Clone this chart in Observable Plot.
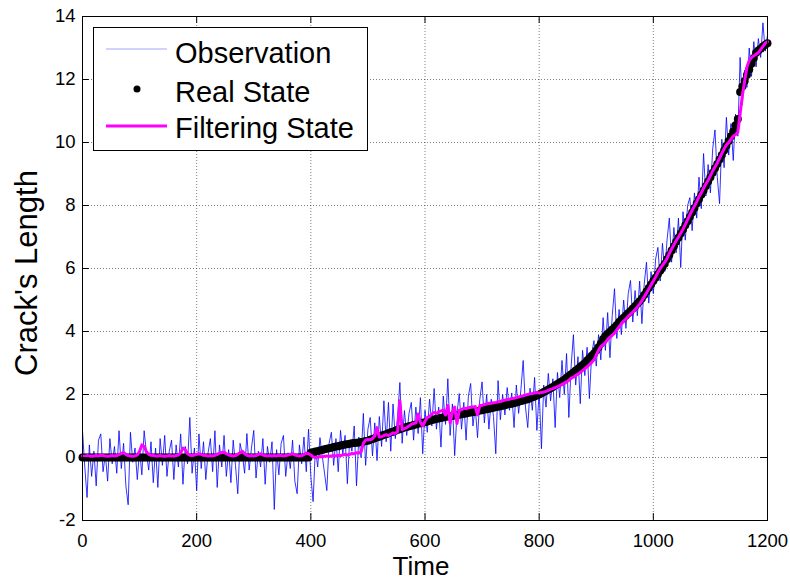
<!DOCTYPE html>
<html><head><meta charset="utf-8">
<script src="https://cdn.jsdelivr.net/npm/d3@7"></script>
<script src="https://cdn.jsdelivr.net/npm/@observablehq/plot@0.6"></script>
<style>body{margin:0;background:#fff} #chart svg{display:block}</style>
</head><body><div id="chart"></div>
<script>
// sampled every 4 time units, t = 0 .. 1200
const timeStep = 4;
const observation = [
 0.85,-0.3,-1.27,0.4,-0.6,0.2,-0.9,0.55,0.75,-0.45,
 0.1,-0.75,0.6,-0.2,0.35,-0.5,0.85,-0.35,0.45,-0.9,
 -1.5,0.8,-0.15,0.3,-0.7,0.25,-0.55,0.85,0.15,-0.4,
 0.5,-0.8,0.3,-0.95,0.6,-0.25,0.7,-0.6,0.2,0.55,
 -0.7,0.4,-0.3,0.75,-0.85,0.35,-0.2,1.27,-0.5,0.3,
 -1.05,0.75,-0.35,0.5,-0.7,0.15,0.6,-0.45,0.85,-0.95,
 0.4,-0.3,0.7,-0.6,0.25,-0.8,0.55,-0.25,-1.15,0.45,
 0.1,-0.5,0.76,-0.4,0.3,0.86,-0.65,0.2,-0.3,0.6,
 -0.85,0.35,-0.15,0.5,-1.65,0.25,-0.55,0.45,0.7,-0.6,
 0.15,-0.35,0.55,-0.75,-1.15,0.4,-0.2,0.65,-0.45,0.9,
 -0.6,-1.4,0.3,-0.3,0.63,0.05,-0.5,-1.05,0.45,0.8,
 -0.25,0.6,-0.45,0.86,0.1,0.7,-0.83,0.55,0.2,1.0,
 -0.9,0.65,0.0,1.4,-0.25,0.9,1.27,0.05,1.1,-0.1,
 1.3,0.35,1.8,0.5,1.75,0.2,1.7,0.6,1.3,2.38,
 0.45,1.49,0.7,1.4,1.75,0.55,1.6,0.76,1.9,0.12,
 1.5,0.8,1.85,1.0,2.19,0.9,1.6,0.33,1.95,1.05,
 2.5,0.7,1.7,0.06,1.4,2.03,0.9,1.75,0.55,1.95,
 2.35,1.0,1.6,0.63,1.85,2.4,1.1,2.0,0.9,1.85,
 1.3,0.12,2.44,1.2,2.0,1.35,2.22,1.5,2.05,0.95,
 2.3,1.4,2.15,3.08,1.6,0.95,2.2,1.5,2.54,0.86,
 2.1,0.28,2.3,1.6,2.67,1.8,2.5,0.95,2.7,1.9,
 3.08,2.0,3.3,1.27,2.9,3.9,2.3,3.2,1.71,3.4,
 2.6,3.5,1.87,3.3,3.71,2.9,3.9,3.1,4.44,3.4,
 4.6,3.17,4.5,5.36,3.78,4.7,3.9,5.0,4.1,5.2,
 5.62,4.3,5.3,4.5,5.6,4.25,5.5,6.2,4.9,5.9,
 5.2,6.3,6.67,5.6,6.8,5.9,6.9,7.6,6.2,7.3,
 6.5,7.6,6.03,7.8,6.9,8.0,8.25,7.2,8.4,7.6,
 8.9,7.9,9.65,8.3,9.3,8.4,9.8,10.4,8.9,8.06,
 10.1,9.2,10.8,9.6,10.6,9.43,10.9,10.2,12.7,11.2,
 12.3,11.75,13.0,12.1,13.2,12.4,13.3,12.7,13.8,12.9,
 13.4
];
const realState = [
 0,0,0,0,0,0,0,0,0,0,
 0,0,0,0,0,0,0,0,0,0,
 0,0,0,0,0,0,0,0,0,0,
 0,0,0,0,0,0,0,0,0,0,
 0,0,0,0,0,0,0,0,0,0,
 0,0,0,0,0,0,0,0,0,0,
 0,0,0,0,0,0,0,0,0,0,
 0,0,0,0,0,0,0,0,0,0,
 0,0,0,0,0,0,0,0,0,0,
 0,0,0,0,0,0,0,0,0,0,
 0.15,0.17,0.19,0.2,0.22,0.24,0.26,0.28,0.29,0.31,
 0.33,0.35,0.36,0.38,0.4,0.41,0.42,0.44,0.45,0.46,
 0.47,0.48,0.49,0.5,0.52,0.53,0.56,0.59,0.61,0.64,
 0.66,0.69,0.72,0.74,0.77,0.8,0.82,0.85,0.88,0.9,
 0.93,0.95,0.97,0.99,1.01,1.03,1.05,1.07,1.09,1.1,
 1.12,1.14,1.17,1.19,1.21,1.23,1.24,1.26,1.27,1.29,
 1.3,1.31,1.32,1.34,1.35,1.36,1.37,1.39,1.4,1.42,
 1.43,1.44,1.46,1.47,1.49,1.5,1.52,1.53,1.55,1.56,
 1.58,1.6,1.61,1.63,1.64,1.66,1.68,1.7,1.71,1.73,
 1.75,1.77,1.79,1.81,1.83,1.85,1.88,1.91,1.94,1.97,
 2.0,2.04,2.08,2.12,2.16,2.2,2.24,2.29,2.33,2.38,
 2.42,2.47,2.53,2.59,2.64,2.7,2.76,2.82,2.88,2.94,
 3.0,3.08,3.15,3.23,3.3,3.4,3.5,3.62,3.76,3.86,
 3.93,3.99,4.06,4.13,4.21,4.3,4.37,4.44,4.51,4.58,
 4.65,4.73,4.8,4.88,4.96,5.05,5.16,5.27,5.38,5.49,
 5.6,5.71,5.82,5.93,6.04,6.15,6.29,6.43,6.57,6.71,
 6.85,6.98,7.11,7.24,7.37,7.5,7.64,7.78,7.92,8.06,
 8.2,8.34,8.48,8.62,8.76,8.9,9.04,9.18,9.32,9.46,
 9.6,9.75,9.9,10.05,10.2,10.35,10.55,10.75,11.6,11.78,
 11.95,12.14,12.32,12.5,12.68,12.85,12.92,12.98,13.05,13.1,
 13.15
];
const filteringState = [
 0.05,0.04,0.06,0.05,0.04,0.05,0.06,0.05,0.07,0.06,
 0.05,0.04,0.05,0.06,0.05,0.06,0.09,0.13,0.15,0.1,
 0.06,0.05,0.04,0.05,0.08,0.2,0.4,0.35,0.18,0.1,
 0.07,0.06,0.05,0.05,0.06,0.05,0.04,0.05,0.06,0.05,
 0.05,0.06,0.08,0.15,0.3,0.25,0.12,0.07,0.06,0.08,
 0.1,0.12,0.1,0.07,0.06,0.05,0.06,0.05,0.07,0.1,
 0.14,0.16,0.17,0.12,0.08,0.06,0.05,0.06,0.1,0.15,
 0.2,0.12,0.07,0.05,0.06,0.05,0.06,0.09,0.12,0.08,
 0.06,0.05,0.06,0.05,0.06,0.05,0.07,0.06,0.05,0.06,
 0.08,0.1,0.12,0.08,0.06,0.05,0.06,0.1,0.14,0.12,
 0.08,0.02,0.0,0.01,0.03,0.02,0.04,0.05,0.03,0.05,
 0.06,0.05,0.07,0.06,0.08,0.1,0.08,0.1,0.13,0.12,
 0.15,0.14,0.18,0.45,0.55,0.57,0.56,0.6,0.68,0.95,
 0.65,0.66,0.7,0.72,0.7,0.74,0.78,0.77,0.82,1.8,
 0.88,0.92,0.95,1.0,1.05,1.08,1.1,1.38,1.12,1.0,
 1.15,1.27,1.3,1.38,1.43,1.4,1.45,1.48,1.5,1.35,
 1.65,1.1,1.45,1.6,1.08,1.5,1.52,1.56,1.55,1.58,
 1.6,1.6,1.62,1.35,1.65,1.66,1.68,1.7,1.72,1.72,
 1.74,1.75,1.77,1.78,1.8,1.82,1.84,1.85,1.87,1.88,
 1.9,1.92,1.94,1.96,1.98,2.0,2.02,2.03,2.05,2.06,
 2.05,2.06,2.08,2.1,2.13,2.16,2.19,2.22,2.25,2.28,
 2.32,2.36,2.4,2.45,2.52,2.55,2.6,2.65,2.7,2.76,
 2.82,2.88,2.95,3.02,3.1,3.25,3.4,3.52,3.58,3.65,
 3.75,3.82,3.88,3.95,4.05,4.15,4.25,4.33,4.4,4.48,
 4.55,4.62,4.7,4.78,4.87,4.98,5.1,5.22,5.35,5.48,
 5.6,5.73,5.88,6.0,6.1,6.2,6.32,6.48,6.62,6.75,
 6.88,7.0,7.12,7.25,7.4,7.55,7.7,7.85,7.98,8.12,
 8.28,8.4,8.55,8.68,8.8,8.95,9.1,9.22,9.35,9.5,
 9.65,9.8,9.92,10.0,10.1,10.2,10.25,10.32,10.9,11.5,
 11.95,12.4,12.6,12.7,12.75,12.8,12.85,12.95,13.05,13.15,
 13.2
];
const xTicks = [0, 200, 400, 600, 800, 1000, 1200];
const yTicks = [-2, 0, 2, 4, 6, 8, 10, 12, 14];
const seriesNames = ["Observation", "Real State", "Filtering State"];
const xLabel = "Time";
const yLabel = "Crack's Length";

const rows = observation.map((v, i) => ({t: i * timeStep, obs: v, real: realState[i], filt: filteringState[i]}));

const xMin = 0, xMax = 1200, yMin = -2, yMax = 14;
const tickLenY = 0.22, tickLenX = 12;

const chart = Plot.plot({
  width: 790, height: 585,
  marginLeft: 82, marginRight: 23, marginTop: 16, marginBottom: 65,
  x: {domain: [xMin, xMax]},
  y: {domain: [yMin, yMax]},
  style: {fontFamily: "'Liberation Sans', Arial, sans-serif", fontSize: "18.5px", background: "#fff", color: "#000"},
  marks: [
    Plot.gridX(xTicks, {stroke: "#000", strokeOpacity: 0.5, strokeDasharray: "1,2"}),
    Plot.gridY(yTicks, {stroke: "#000", strokeOpacity: 0.5, strokeDasharray: "1,2"}),
    Plot.line(rows, {x: "t", y: "obs", stroke: "#0000ff", strokeWidth: 0.8}),
    Plot.dot(rows, {x: "t", y: "real", r: 4, fill: "#000"}),
    Plot.line(rows, {x: "t", y: "filt", stroke: "#ff00ff", strokeWidth: 3}),
    Plot.frame({stroke: "#000"}),
    Plot.ruleX(xTicks, {x: d => d, y1: yMin, y2: yMin + tickLenY, stroke: "#000"}),
    Plot.ruleX(xTicks, {x: d => d, y1: yMax, y2: yMax - tickLenY, stroke: "#000"}),
    Plot.ruleY(yTicks, {y: d => d, x1: xMin, x2: xMin + tickLenX, stroke: "#000"}),
    Plot.ruleY(yTicks, {y: d => d, x1: xMax, x2: xMax - tickLenX, stroke: "#000"}),
    Plot.axisX(xTicks, {tickSize: 0, tickPadding: 13, label: null, tickFormat: d => String(d)}),
    Plot.axisY(yTicks, {tickSize: 0, tickPadding: 7, label: null, tickFormat: d => String(d)})
  ]
});
document.getElementById("chart").append(chart);

const svg = d3.select(chart);
svg.append("text").attr("x", 421).attr("y", 575).attr("text-anchor", "middle")
  .style("font-size", "26px").attr("fill", "#000").text(xLabel);
svg.append("text").attr("transform", "translate(37,273) rotate(-90)").attr("text-anchor", "middle")
  .style("font-size", "31px").attr("fill", "#000").text(yLabel);

const lg = svg.append("g").style("font-size", "29px").attr("text-anchor", "start");
lg.append("rect").attr("x", 93.5).attr("y", 27.5).attr("width", 274).attr("height", 123)
  .attr("fill", "#fff").attr("stroke", "#000");
lg.append("line").attr("x1", 106).attr("x2", 167).attr("y1", 49).attr("y2", 49)
  .attr("stroke", "#0000ff").attr("stroke-width", 0.6).attr("stroke-opacity", 0.6);
lg.append("circle").attr("cx", 137).attr("cy", 89).attr("r", 3.5).attr("fill", "#000");
lg.append("line").attr("x1", 106).attr("x2", 167).attr("y1", 126).attr("y2", 126)
  .attr("stroke", "#ff00ff").attr("stroke-width", 3);
const baselines = [63, 102, 138];
seriesNames.forEach((name, i) => {
  lg.append("text").attr("x", 175).attr("y", baselines[i]).attr("text-anchor", "start")
    .attr("fill", "#000").text(name);
});
</script>
</body></html>
